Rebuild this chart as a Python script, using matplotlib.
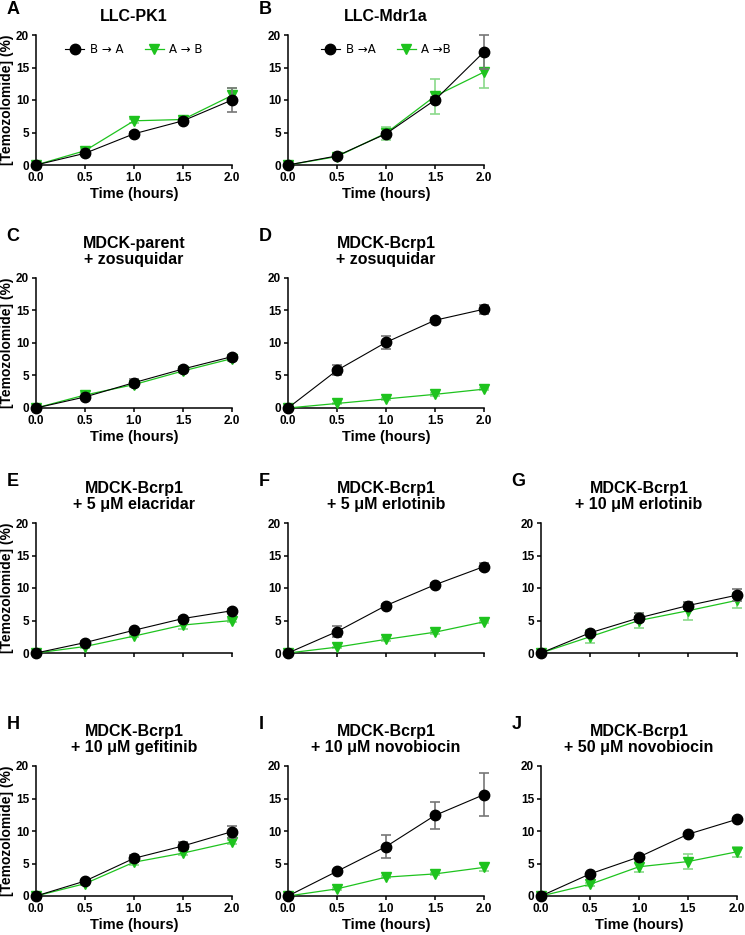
import matplotlib
matplotlib.use('Agg')
import matplotlib.pyplot as plt
from matplotlib.lines import Line2D
import numpy as np

plt.rcParams['font.family'] = ['Liberation Sans', 'DejaVu Sans']

# Tiempos de muestreo (horas)
time_h = [0.0, 0.5, 1.0, 1.5, 2.0]

titles = ['LLC-PK1', 'LLC-Mdr1a',
          'MDCK-parent\n+ zosuquidar', 'MDCK-Bcrp1\n+ zosuquidar',
          'MDCK-Bcrp1\n+ 5 \u03bcM elacridar', 'MDCK-Bcrp1\n+ 5 \u03bcM erlotinib',
          'MDCK-Bcrp1\n+ 10 \u03bcM erlotinib', 'MDCK-Bcrp1\n+ 10 \u03bcM gefitinib',
          'MDCK-Bcrp1\n+ 10 \u03bcM novobiocin', 'MDCK-Bcrp1\n+ 50 \u03bcM novobiocin']
letters = ['A', 'B', 'C', 'D', 'E', 'F', 'G', 'H', 'I', 'J']

# B -> A (media y error)
ba_mean = [
    [0, 1.8, 4.8, 6.8, 10.0],
    [0, 1.4, 4.8, 10.0, 17.4],
    [0, 1.7, 3.9, 6.0, 7.9],
    [0, 5.8, 10.1, 13.5, 15.2],
    [0, 1.6, 3.5, 5.3, 6.5],
    [0, 3.3, 7.3, 10.5, 13.3],
    [0, 3.1, 5.4, 7.3, 8.9],
    [0, 2.3, 5.8, 7.7, 9.9],
    [0, 3.8, 7.6, 12.4, 15.6],
    [0, 3.4, 6.0, 9.5, 11.8],
]
ba_err = [
    [0, 0.2, 0.3, 0.3, 1.9],
    [0, 0.2, 0.3, 0.5, 2.6],
    [0, 0.2, 0.5, 0.3, 0.3],
    [0, 0.8, 1.0, 0.3, 0.7],
    [0, 0.2, 0.2, 0.3, 0.2],
    [0, 0.8, 0.2, 0.2, 0.5],
    [0, 0.3, 0.7, 0.5, 0.9],
    [0, 0.2, 0.5, 0.6, 0.9],
    [0, 0.2, 1.8, 2.1, 3.3],
    [0, 0.2, 0.2, 0.2, 0.2],
]
# A -> B (media y error)
ab_mean = [
    [0, 2.2, 6.8, 7.0, 10.7],
    [0, 1.3, 4.9, 10.6, 14.3],
    [0, 2.0, 3.6, 5.7, 7.6],
    [0, 0.7, 1.4, 2.1, 2.9],
    [0, 1.0, 2.6, 4.3, 5.0],
    [0, 0.9, 2.1, 3.2, 4.8],
    [0, 2.5, 5.0, 6.5, 8.1],
    [0, 1.9, 5.2, 6.6, 8.3],
    [0, 1.1, 2.9, 3.4, 4.4],
    [0, 1.8, 4.5, 5.3, 6.8],
]
ab_err = [
    [0, 0.3, 0.3, 0.3, 1.2],
    [0, 0.2, 1.0, 2.7, 2.4],
    [0, 0.3, 0.3, 0.3, 0.3],
    [0, 0.1, 0.2, 0.2, 0.2],
    [0, 0.2, 0.2, 0.6, 0.3],
    [0, 0.1, 0.2, 0.2, 0.2],
    [0, 1.0, 1.1, 1.4, 1.2],
    [0, 0.2, 0.5, 0.3, 0.3],
    [0, 0.1, 0.2, 0.2, 0.6],
    [0, 0.2, 0.8, 1.1, 0.8],
]
legend_labels = [('B \u2192 A', 'A \u2192 B'), ('B \u2192A', 'A \u2192B')]

W, H = 745, 935
fig = plt.figure(figsize=(W / 100, H / 100), dpi=100)

col_left = [36, 288, 541]
ax_w = 196
row_top = [35, 278, 523, 766]
ax_h = 130
# (fila, columna) de cada panel
layout = [(0, 0), (0, 1), (1, 0), (1, 1), (2, 0), (2, 1), (2, 2), (3, 0), (3, 1), (3, 2)]

green = '#1ec31e'
for i, (r, c) in enumerate(layout):
    ax = fig.add_axes([col_left[c] / W, 1 - (row_top[r] + ax_h) / H, ax_w / W, ax_h / H])
    ax.errorbar(time_h, ab_mean[i], yerr=ab_err[i], color=green, marker='v', ms=7,
                lw=0.9, ecolor='#8ad98a', elinewidth=1.2, capsize=3.5, capthick=1.2,
                clip_on=False, zorder=3)
    ax.errorbar(time_h, ba_mean[i], yerr=ba_err[i], color='black', marker='o', ms=7.5,
                lw=0.8, ecolor='#777777', elinewidth=1.2, capsize=3.5, capthick=1.2,
                clip_on=False, zorder=4)
    ax.set_xlim(0, 2)
    ax.set_ylim(0, 20)
    ax.set_xticks(time_h)
    ax.set_yticks([0, 5, 10, 15, 20])
    ax.spines['top'].set_visible(False)
    ax.spines['right'].set_visible(False)
    for s in ['left', 'bottom']:
        ax.spines[s].set_linewidth(1.1)
    ax.tick_params(direction='out', length=3, width=1.1, labelsize=8.5, pad=2)
    for lab in ax.get_xticklabels() + ax.get_yticklabels():
        lab.set_fontweight('bold')
    if r == 2:
        ax.set_xticklabels([])
    else:
        ax.set_xticklabels(['%.1f' % t for t in time_h], fontweight='bold')
        ax.set_xlabel('Time (hours)', fontsize=10.5, fontweight='bold', labelpad=2)
    if c == 0:
        ax.set_ylabel('[Temozolomide] (%)', fontsize=10, fontweight='bold', labelpad=1)
    ax.set_title(titles[i], fontsize=11.5, fontweight='bold', pad=10, linespacing=1.1)
    ax.text(-0.15, 1.2 if r == 0 else 1.32, letters[i],
            transform=ax.transAxes, fontsize=13, fontweight='bold', va='center', ha='left')
    if i < 2:
        handles = [Line2D([], [], color='black', marker='o', ms=7.5, lw=0.8),
                   Line2D([], [], color=green, marker='v', ms=7, lw=0.9)]
        ax.legend(handles, legend_labels[i], loc='upper center', ncol=2, frameon=False,
                  prop={'family': 'DejaVu Sans', 'size': 8.5}, handlelength=1.6,
                  columnspacing=1.8, handletextpad=0.5, bbox_to_anchor=(0.5, 1.02))

fig.savefig('out.png', dpi=100)
